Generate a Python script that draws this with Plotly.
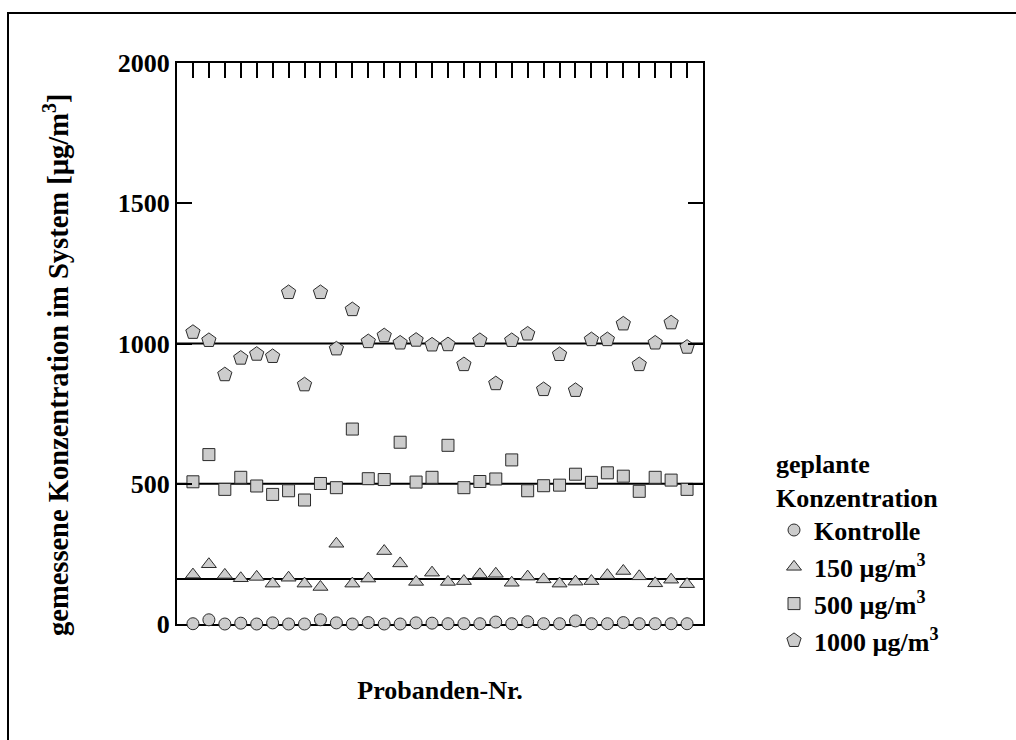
import plotly.graph_objects as go

# Probanden 1..32
subjects = list(range(1, 33))

# measured concentrations in the exposure system [µg/m³]
kontrolle = [1, 15, 0, 3, 0, 4, 0, 0, 15, 4, 0, 5, 0, 0, 4, 3,
             1, 1, 1, 7, 1, 8, 1, 1, 11, 1, 1, 5, 1, 1, 1, 1]
konz_150 = [176, 213, 175, 163, 168, 144, 165, 144, 132, 286, 144, 162, 260, 216, 150, 183,
            150, 153, 177, 179, 147, 169, 159, 144, 151, 153, 174, 189, 170, 145, 158, 142]
konz_500 = [507, 604, 480, 523, 492, 462, 475, 442, 501, 486, 695, 518, 515, 648, 506, 523,
            637, 486, 508, 517, 585, 475, 493, 495, 534, 505, 539, 527, 473, 523, 513, 480]
konz_1000 = [1040, 1011, 889, 948, 962, 954, 1182, 853, 1182, 981, 1121, 1007, 1028, 1002, 1012, 995,
             996, 925, 1011, 857, 1011, 1034, 836, 961, 833, 1014, 1014, 1070, 925, 1002, 1074, 987]

series_names = ["Kontrolle", "150 µg/m<sup>3</sup>", "500 µg/m<sup>3</sup>", "1000 µg/m<sup>3</sup>"]
series_values = [kontrolle, konz_150, konz_500, konz_1000]
series_symbols = ["circle", "triangle-up", "square", "pentagon"]
series_sizes = [12, 13, 12, 15]

# planned levels drawn as horizontal reference lines
reference_levels = [160, 500, 1000]
y_ticks = [0, 500, 1000, 1500, 2000]

FONT = "Liberation Serif, Times New Roman, serif"
FILL = "#cccccc"
EDGE = "#2b2b2b"

W, H = 1016, 740
ML, MR, MT, MB = 177, 313, 63, 116

fig = go.Figure()

for name, vals, sym, size in zip(series_names, series_values, series_symbols, series_sizes):
    fig.add_trace(go.Scatter(
        x=subjects, y=vals, mode="markers", name=name,
        marker=dict(symbol=sym, size=size, color=FILL, line=dict(color=EDGE, width=1)),
        cliponaxis=False,
    ))

# carrier trace for the top axis with the subject ticks
fig.add_trace(go.Scatter(x=subjects, y=[None] * len(subjects), xaxis="x2",
                         mode="markers", showlegend=False, hoverinfo="skip"))

for lvl in reference_levels:
    fig.add_hline(y=lvl, line=dict(color="black", width=2), layer="below")

# pixel -> paper helpers for frame and titles
pw, ph = W - ML - MR, H - MT - MB
def px_x(p):
    return (p - ML) / pw
def px_y(p):
    return (H - MB - p) / ph

# outer frame of the figure
fig.add_shape(type="rect", xref="paper", yref="paper",
              x0=px_x(8), x1=px_x(1040), y0=px_y(760), y1=px_y(13),
              line=dict(color="black", width=2), fillcolor="rgba(0,0,0,0)")

# y axis title
fig.add_annotation(
    text="gemessene Konzentration im System [µg/m<sup>3</sup>]",
    xref="paper", yref="paper", x=px_x(56), y=px_y(365),
    xanchor="center", yanchor="middle", textangle=-90, showarrow=False,
    font=dict(size=28.5, weight="bold", family=FONT),
)

fig.update_layout(
    width=W, height=H,
    margin=dict(l=ML, r=MR, t=MT, b=MB, autoexpand=False),
    paper_bgcolor="white", plot_bgcolor="white",
    font=dict(family=FONT, size=26, color="black", weight="bold"),
    showlegend=True,
    legend=dict(
        x=px_x(774), y=px_y(439), xanchor="left", yanchor="top",
        title=dict(text="geplante<br>Konzentration", font=dict(size=26, weight="bold")),
        font=dict(size=26, weight="bold"),
        bgcolor="rgba(0,0,0,0)", borderwidth=0,
    ),
    xaxis=dict(
        range=[0, 33], showline=True, linecolor="black", linewidth=2,
        ticks="", showticklabels=False, showgrid=False, zeroline=False,
        layer="below traces",
        title=dict(text="Probanden-Nr.", standoff=56, font=dict(size=26, weight="bold")),
    ),
    xaxis2=dict(
        range=[0, 33], overlaying="x", side="top", anchor="y",
        tickvals=subjects, ticks="inside", ticklen=15, tickwidth=1.5, tickcolor="black",
        showline=True, linecolor="black", linewidth=2,
        showticklabels=False, showgrid=False, zeroline=False,
    ),
    yaxis=dict(
        range=[0, 2000], tickvals=y_ticks, ticks="inside", ticklen=15, tickwidth=1.5,
        tickcolor="black", showline=True, linecolor="black", linewidth=2, mirror="ticks",
        showgrid=False, zeroline=False,
        tickfont=dict(size=26, weight="bold"),
    ),
)

fig.write_html("out.html")
